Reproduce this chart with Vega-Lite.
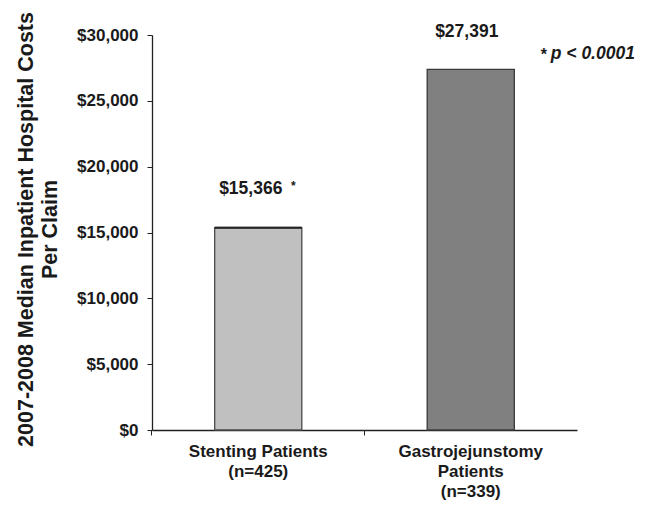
{
  "$schema": "https://vega.github.io/schema/vega-lite/v6.json",
  "width": 425,
  "height": 395,
  "autosize": {"type": "none"},
  "padding": {"left": 152, "top": 35, "right": 73, "bottom": 75},
  "background": "white",
  "config": {
    "view": {"stroke": null},
    "font": "Liberation Sans",
    "text": {"font": "Liberation Sans"}
  },
  "data": {
    "values": [
      {"group": "Stenting", "cost": 15366, "label": "$15,366", "star": true},
      {"group": "Gastrojejunstomy", "cost": 27391, "label": "$27,391", "star": false}
    ]
  },
  "encoding": {
    "x": {
      "field": "group",
      "type": "nominal",
      "sort": ["Stenting", "Gastrojejunstomy"],
      "scale": {"paddingInner": 0.59, "paddingOuter": 0.295},
      "axis": {
        "title": null,
        "labelAngle": 0,
        "labelFont": "Liberation Sans",
        "labelFontWeight": "bold",
        "labelFontSize": 17,
        "labelColor": "#1a1a1a",
        "labelLineHeight": 20,
        "labelPadding": 8,
        "labelExpr": "datum.label == 'Stenting' ? ['Stenting Patients', '(n=425)'] : ['Gastrojejunstomy', 'Patients', '(n=339)']",
        "bandPosition": -0.72,
        "tickSize": 5,
        "tickColor": "#222",
        "domainColor": "#222",
        "domainWidth": 1.3
      }
    },
    "y": {
      "field": "cost",
      "type": "quantitative",
      "scale": {"domain": [0, 30000]},
      "axis": {
        "values": [0, 5000, 10000, 15000, 20000, 25000, 30000],
        "format": "$,.0f",
        "grid": false,
        "title": ["2007-2008 Median Inpatient  Hospital Costs", "Per Claim"],
        "titleFont": "Liberation Sans",
        "titleFontSize": 21.5,
        "titleFontWeight": "bold",
        "titleColor": "#1a1a1a",
        "titleLineHeight": 24,
        "titleY": 194,
        "titlePadding": 15,
        "labelFont": "Liberation Sans",
        "labelFontWeight": "bold",
        "labelFontSize": 17,
        "labelColor": "#1a1a1a",
        "labelPadding": 9,
        "tickSize": 5,
        "tickColor": "#222",
        "domainColor": "#222",
        "domainWidth": 1.3
      }
    }
  },
  "layer": [
    {
      "mark": {"type": "bar", "strokeWidth": 1.3},
      "encoding": {
        "color": {
          "field": "group",
          "type": "nominal",
          "scale": {"domain": ["Stenting", "Gastrojejunstomy"], "range": ["#c0c0c0", "#808080"]},
          "legend": null
        },
        "stroke": {
          "field": "group",
          "type": "nominal",
          "scale": {"domain": ["Stenting", "Gastrojejunstomy"], "range": ["#4a4a4a", "#3a3a3a"]},
          "legend": null
        }
      }
    },
    {
      "transform": [{"filter": "datum.star"}],
      "mark": {"type": "tick", "thickness": 2.5, "color": "#111", "size": 87},
      "encoding": {}
    },
    {
      "transform": [{"filter": "datum.star"}],
      "mark": {"type": "text", "fontWeight": "bold", "fontSize": 17.5, "dy": -39, "dx": -7.5, "color": "#1a1a1a"},
      "encoding": {"text": {"field": "label"}}
    },
    {
      "transform": [{"filter": "!datum.star"}],
      "mark": {"type": "text", "fontWeight": "bold", "fontSize": 17.5, "dy": -37, "dx": -4, "color": "#1a1a1a"},
      "encoding": {"text": {"field": "label"}}
    },
    {
      "transform": [{"filter": "datum.star"}],
      "mark": {"type": "text", "fontWeight": "bold", "fontSize": 12, "dy": -42, "dx": 35, "color": "#1a1a1a"},
      "encoding": {"text": {"value": "*"}}
    },
    {
      "transform": [{"filter": "!datum.star"}],
      "mark": {"type": "text", "fontWeight": "bold", "fontSize": 16, "align": "left", "dy": -14, "dx": 70, "color": "#1a1a1a"},
      "encoding": {"text": {"value": "*"}}
    },
    {
      "transform": [{"filter": "!datum.star"}],
      "mark": {"type": "text", "fontWeight": "bold", "fontStyle": "italic", "fontSize": 17.5, "align": "left", "dy": -15, "dx": 80, "color": "#1a1a1a"},
      "encoding": {"text": {"value": "p < 0.0001"}}
    }
  ]
}
